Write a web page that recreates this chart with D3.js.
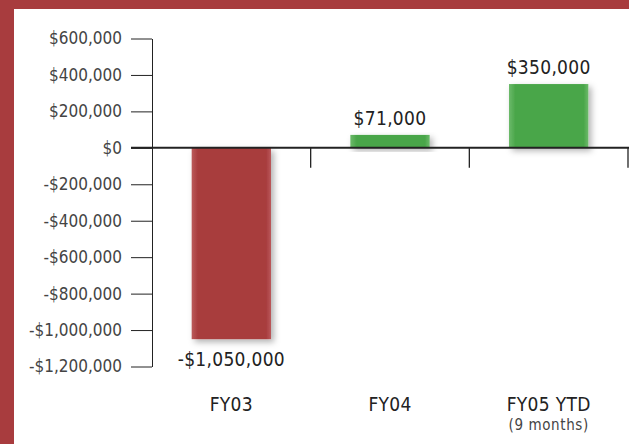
<!DOCTYPE html>
<html>
<head>
<meta charset="utf-8">
<script src="https://cdn.jsdelivr.net/npm/d3@7"></script>
<style>
  body { margin: 0; background: #fff; }
  svg text { font-family: "Liberation Sans Narrow", "Arial Narrow", "DejaVu Sans Condensed", sans-serif; }
</style>
</head>
<body>
<svg width="629" height="444"></svg>
<script>
const categories = ['FY03', 'FY04', 'FY05 YTD'];
const subLabels = ['', '', '(9 months)'];
const values = [-1050000, 71000, 350000];
const valueLabels = ['-$1,050,000', '$71,000', '$350,000'];
const yTicks = [600000, 400000, 200000, 0, -200000, -400000, -600000, -800000, -1000000, -1200000];

const svg = d3.select('svg');
const width = +svg.attr('width');
const height = +svg.attr('height');
const frameColor = '#a83c3e';

// red frame, top and left
svg.append('rect').attr('x', 0).attr('y', 0).attr('width', width).attr('height', 9).attr('fill', frameColor);
svg.append('rect').attr('x', 0).attr('y', 0).attr('width', 14).attr('height', height).attr('fill', frameColor);

const defs = svg.append('defs');
const shadow = defs.append('filter').attr('id', 'shadow')
    .attr('x', '-20%').attr('y', '-20%').attr('width', '150%').attr('height', '150%');
shadow.append('feDropShadow')
    .attr('dx', 3).attr('dy', 3).attr('stdDeviation', 3)
    .attr('flood-color', '#000').attr('flood-opacity', 0.3);

const gradient = (id, edge, mid) => {
    const g = defs.append('linearGradient').attr('id', id)
        .attr('x1', 0).attr('x2', 1).attr('y1', 0).attr('y2', 0);
    g.append('stop').attr('offset', '0%').attr('stop-color', edge);
    g.append('stop').attr('offset', '8%').attr('stop-color', mid);
    g.append('stop').attr('offset', '94%').attr('stop-color', mid);
    g.append('stop').attr('offset', '100%').attr('stop-color', edge);
};
gradient('redFill', '#bb5a5b', '#a83c3e');
gradient('greenFill', '#6cba6a', '#4aa64a');

const yScale = d3.scaleLinear()
    .domain([-1200000, 600000])
    .range([366.5, 38.5]);

const xScale = d3.scaleBand()
    .domain(categories)
    .range([152, 628])
    .paddingInner(0.5)
    .paddingOuter(0.25);

const money = d3.format(',');
const yAxis = d3.axisLeft(yScale)
    .tickValues(yTicks)
    .tickSize(21)
    .tickSizeOuter(0)
    .tickPadding(9)
    .tickFormat(v => (v < 0 ? '-$' : '$') + money(Math.abs(v)));

const yAxisG = svg.append('g')
    .attr('transform', 'translate(152, 0)')
    .call(yAxis);
yAxisG.select('.domain').attr('stroke', '#222');
yAxisG.selectAll('.tick line').attr('stroke', '#222');
yAxisG.selectAll('.tick text')
    .attr('fill', '#444')
    .style('font-size', '17px')
    .style('letter-spacing', '0px');

// bars
svg.append('g').selectAll('rect')
    .data(values)
    .join('rect')
    .attr('x', (d, i) => xScale(categories[i]))
    .attr('width', xScale.bandwidth())
    .attr('y', d => yScale(Math.max(0, d)))
    .attr('height', d => Math.abs(yScale(d) - yScale(0)))
    .attr('fill', d => d < 0 ? 'url(#redFill)' : 'url(#greenFill)')
    .attr('filter', 'url(#shadow)');

// zero line and category separators
svg.append('line')
    .attr('x1', 131).attr('x2', width)
    .attr('y1', yScale(0)).attr('y2', yScale(0))
    .attr('stroke', '#222').attr('stroke-width', 2);

svg.append('g').selectAll('line')
    .data(categories)
    .join('line')
    .attr('x1', d => xScale(d) + xScale.bandwidth() + (xScale.step() - xScale.bandwidth()) / 2)
    .attr('x2', d => xScale(d) + xScale.bandwidth() + (xScale.step() - xScale.bandwidth()) / 2)
    .attr('y1', yScale(0))
    .attr('y2', yScale(0) + 20)
    .attr('stroke', '#222').attr('stroke-width', 1.3);

// value labels
svg.append('g').selectAll('text')
    .data(values)
    .join('text')
    .attr('x', (d, i) => xScale(categories[i]) + xScale.bandwidth() / 2)
    .attr('y', d => d < 0 ? yScale(d) + 27 : yScale(d) - 10)
    .attr('text-anchor', 'middle')
    .attr('fill', '#222')
    .style('font-size', '19px')
    .style('letter-spacing', '0.3px')
    .text((d, i) => valueLabels[i]);

// category labels
svg.append('g').selectAll('text')
    .data(categories)
    .join('text')
    .attr('x', d => xScale(d) + xScale.bandwidth() / 2)
    .attr('y', 410.5)
    .attr('text-anchor', 'middle')
    .attr('fill', '#222')
    .style('font-size', '19px')
    .style('letter-spacing', '0.3px')
    .text(d => d);

svg.append('g').selectAll('text')
    .data(subLabels)
    .join('text')
    .attr('x', (d, i) => xScale(categories[i]) + xScale.bandwidth() / 2)
    .attr('y', 430)
    .attr('text-anchor', 'middle')
    .attr('fill', '#444')
    .style('font-size', '15px')
    .style('letter-spacing', '0.6px')
    .text(d => d);
</script>
</body>
</html>
